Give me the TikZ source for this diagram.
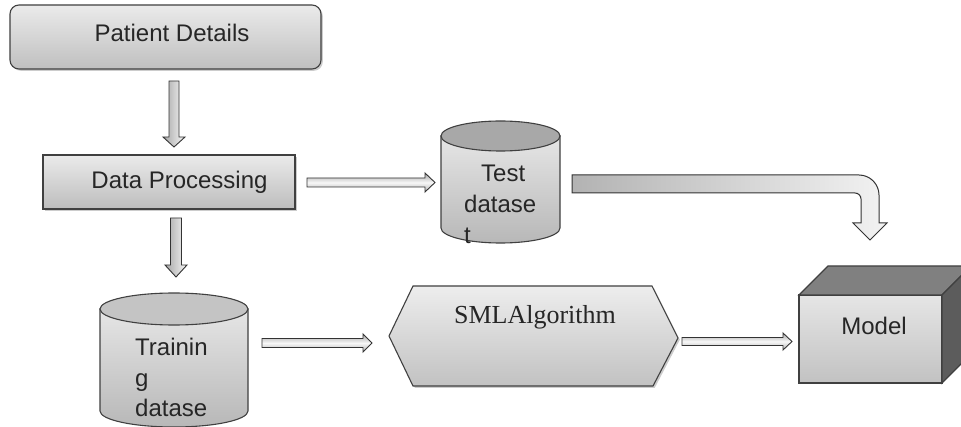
\documentclass[tikz,border=0pt]{standalone}
\usepackage{fontspec}
\setmainfont{Liberation Sans}
\newfontfamily\smlserif{Liberation Serif}
\usetikzlibrary{shadows,calc}
\tikzset{
  txt/.style={font=\fontsize{24}{31}\selectfont, inner sep=0pt, text=black!85},
  edgeline/.style={draw=black!75, line width=1.1pt},
  softshadow/.style={drop shadow={shadow xshift=1.8pt, shadow yshift=-1.8pt, opacity=0.4}},
  pbox/.style={edgeline, rounded corners=9pt, top color=black!8, bottom color=black!25, softshadow},
  dbox/.style={edgeline, top color=black!8, bottom color=black!26, softshadow},
  harrowst/.style={draw=black!80, line width=0.9pt, top color=black!35, bottom color=black!30, middle color=black!3},
  varrowst/.style={draw=black!80, line width=0.9pt, left color=black!35, right color=black!3},
  bentst/.style={draw=black!80, line width=1pt, left color=black!30, right color=black!5},
  cylbody/.style={edgeline, top color=black!10, bottom color=black!28},
  hexst/.style={edgeline, top color=black!7, bottom color=black!24, softshadow},
}
\newcommand\blockH[5]{%
  \path[harrowst] ($(#1)+(0,-#3)$) -- ($(#2)+(-#5,-#3)$) -- ($(#2)+(-#5,-#4)$) -- (#2)
     -- ($(#2)+(-#5,#4)$) -- ($(#2)+(-#5,#3)$) -- ($(#1)+(0,#3)$) -- cycle;}
\newcommand\blockV[5]{%
  \path[varrowst] ($(#1)+(-#3,0)$) -- ($(#2)+(-#3,-#5)$) -- ($(#2)+(-#4,-#5)$) -- (#2)
     -- ($(#2)+(#4,-#5)$) -- ($(#2)+(#3,-#5)$) -- ($(#1)+(#3,0)$) -- cycle;}
\begin{document}
\begin{tikzpicture}[x=1pt,y=-1pt]
\useasboundingbox[fill=white] (0,0) rectangle (961,427);

% Patient Details
\node[pbox, minimum width=311pt, minimum height=64pt] (patient) at (165.5,37) {};
% Data Processing
\node[dbox, minimum width=252pt, minimum height=54pt] (proc) at (169,182) {};

% Test dataset cylinder
\path[cylbody] (441,136) -- (441,228) arc[start angle=180, end angle=0, x radius=59.5, y radius=15] -- (560,136) -- cycle;
\path[edgeline, fill=black!34] (500.5,136) ellipse[x radius=59.5, y radius=15];

% Training dataset cylinder
\path[cylbody] (100,309) -- (100,411) arc[start angle=180, end angle=0, x radius=74, y radius=16] -- (248,309) -- cycle;
\path[edgeline, fill=black!23] (174,309) ellipse[x radius=74, y radius=16];

% SML hexagon
\path[hexst] (389,336) -- (413,286) -- (652,286) -- (678,338) -- (653,386) -- (413,386) -- cycle;

% Model cube
\path[edgeline, top color=black!10, bottom color=black!24] (799,295) rectangle (942,383);
\path[edgeline, fill=black!50] (799,295) -- (828,266) -- (971,266) -- (942,295) -- cycle;
\path[edgeline, fill=black!64] (942,295) -- (971,266) -- (971,354) -- (942,383) -- cycle;

% connector end points
\coordinate (a1s) at (174,81);   \coordinate (a1e) at (174,147);
\coordinate (a2s) at (307,182.5); \coordinate (a2e) at (435,182.5);
\coordinate (a3s) at (176,218);  \coordinate (a3e) at (176,277);
\coordinate (a4s) at (262,343);  \coordinate (a4e) at (372,343);
\coordinate (a5s) at (682,341.5); \coordinate (a5e) at (792,341.5);

\blockV{a1s}{a1e}{5}{11}{10}
\blockH{a2s}{a2e}{4.5}{9.5}{10}
\blockV{a3s}{a3e}{5.5}{11}{12}
\blockH{a4s}{a4e}{4.5}{9}{9}
\blockH{a5s}{a5e}{4}{8.5}{9}

% bent arrow Test dataset -> Model
\path[bentst] (572,175) -- (859,175) .. controls (870,175) and (879,184) .. (879,195)
  -- (879,223) -- (887,223) -- (870,240) -- (853,223) -- (861,223) -- (861,199)
  .. controls (861,195.7) and (858.3,193) .. (855,193) -- (572,193) -- cycle;

% texts
\node[txt, anchor=base] (patientT) at (172,42) {Patient Details};
\node[txt, anchor=base] (procT) at (179.5,188.5) {Data Processing};
\node[txt, anchor=base west] (testT) at (464,181.3)
  {\begin{tabular}[t]{@{}l@{}}\hspace*{17pt}Test\\datase\\t\end{tabular}};
\node[txt, anchor=base west, font=\fontsize{24}{30.5}\selectfont] (trainT) at (135,356)
  {\begin{tabular}[t]{@{}l@{}}Trainin\\g\\datase\end{tabular}};
\node[txt, anchor=base, font=\smlserif\fontsize{26}{31}\selectfont] (smlT) at (535,324) {SMLAlgorithm};
\node[txt, anchor=base] (modelT) at (874,335) {Model};
\end{tikzpicture}
\end{document}
